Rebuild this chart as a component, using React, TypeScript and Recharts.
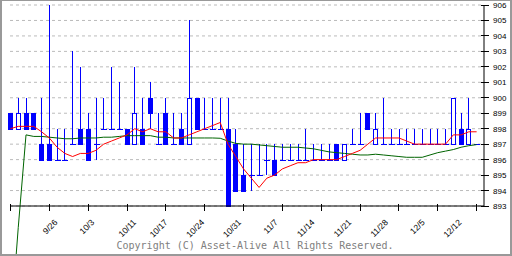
import { Bar, CartesianGrid, ComposedChart, Line, ReferenceLine, XAxis, YAxis } from "recharts"

// daily candles, 9/12 .. 12/12
const opens = [
    899, 898, 899, 899, 897, 897, 896, 896, 897, 898,
    898, 897, 898, 898, 898, 898, 897, 898, 900, 897,
    899, 897, 898, 897, 900, 898, 898, 898, 898, 897,
    895, 895, 895, 896, 896, 896, 896, 896, 896, 896,
    896, 896, 897, 896, 897, 897, 899, 897, 897, 897,
    897, 897, 897, 897, 897, 897, 897, 897, 898, 897,
    897,
]
const highs = [
    899, 900, 900, 899, 900, 906, 898, 898, 903, 902,
    899, 900, 900, 902, 901, 898, 902, 900, 901, 899,
    900, 899, 899, 905, 900, 900, 900, 900, 900, 898,
    897, 897, 897, 897, 897, 897, 897, 897, 898, 897,
    897, 897, 897, 897, 898, 899, 899, 899, 900, 898,
    898, 898, 898, 898, 898, 898, 898, 900, 899, 900,
    897,
]
const lows = [
    898, 898, 898, 898, 896, 896, 896, 896, 897, 897,
    896, 896, 898, 898, 898, 897, 897, 897, 898, 897,
    897, 897, 897, 897, 898, 898, 898, 898, 893, 894,
    894, 894, 895, 895, 895, 896, 896, 896, 896, 896,
    896, 896, 896, 896, 897, 897, 898, 897, 897, 897,
    897, 897, 897, 897, 897, 897, 897, 897, 897, 897,
    897,
]
const closes = [
    898, 899, 898, 898, 896, 896, 896, 896, 897, 897,
    896, 897, 898, 898, 898, 897, 899, 897, 899, 897,
    897, 897, 897, 900, 898, 898, 898, 898, 893, 894,
    894, 895, 895, 896, 895, 896, 896, 896, 896, 896,
    896, 896, 896, 897, 897, 897, 898, 898, 897, 897,
    897, 897, 897, 897, 897, 897, 897, 900, 897, 898,
    897,
]
// calendar day of each candle, counted from 9/26
const candleDays = [
    -14, -13, -12, -11, -10, -6, -5, -4, 0, 1,
    2, 3, 4, 7, 8, 9, 10, 11, 15, 16,
    17, 18, 21, 22, 23, 24, 25, 28, 29, 30,
    31, 32, 35, 36, 37, 39, 42, 43, 44, 45,
    46, 49, 50, 51, 52, 53, 56, 57, 59, 60,
    63, 64, 65, 66, 67, 70, 71, 72, 73, 74,
    77,
]
// red: short moving average
const ma5 = [
    898.0, 898.15, 898.15, 898.15, 897.8, 897.4, 896.8, 896.4, 896.2, 896.4,
    896.4, 896.6, 897.0, 897.2, 897.4, 897.6, 898.0, 897.8, 898.0, 897.8,
    897.8, 897.4, 897.4, 897.6, 897.8, 898.0, 898.2, 898.4, 897.0, 896.2,
    895.4, 894.8, 894.2, 894.8, 895.0, 895.4, 895.6, 895.8, 895.8, 896.0,
    896.0, 896.0, 896.0, 896.2, 896.4, 896.6, 897.0, 897.4, 897.4, 897.4,
    897.4, 897.2, 897.0, 897.0, 897.0, 897.0, 897.0, 897.6, 897.6, 897.8,
    897.8,
]
// green: long moving average (first two points fall far below the chart)
const ma25 = [
    885.0, 891.6, 897.6, 897.5, 897.5, 897.45, 897.4, 897.35, 897.35, 897.4,
    897.4, 897.4, 897.45, 897.45, 897.5, 897.55, 897.55, 897.55, 897.55, 897.45,
    897.45, 897.4, 897.4, 897.4, 897.4, 897.4, 897.4, 897.38, 897.2, 897.05,
    897.0, 897.0, 896.95, 896.9, 896.85, 896.8, 896.8, 896.8, 896.75, 896.7,
    896.6, 896.5, 896.45, 896.4, 896.35, 896.3, 896.3, 896.35, 896.3, 896.25,
    896.2, 896.15, 896.15, 896.15, 896.3, 896.45, 896.55, 896.65, 896.8, 896.9,
    896.97,
]

const tickIndex = [0, 5, 10, 15, 20, 25, 30, 35, 40, 45, 50, 55, 60]
const dateLabels = ["9/26", "10/3", "10/11", "10/17", "10/24", "10/31", "11/7", "11/14", "11/21", "11/28", "12/5", "12/12"]
const labelDays = [0, 7, 15, 21, 28, 35, 42, 49, 56, 63, 70, 77]
const priceTicks = [893, 894, 895, 896, 897, 898, 899, 900, 901, 902, 903, 904, 905, 906]

const data = closes.map((c, i) => ({
    i,
    day: candleDays[i],
    open: opens[i],
    close: c,
    high: highs[i],
    low: lows[i],
    range: [lows[i], highs[i]],
    ma5: ma5[i],
    ma25: i >= 2 ? ma25[i] : null,
}))

const BLUE = "#0000ff"
const tickFont = "'Liberation Sans', Arial, sans-serif"

const Candle = (props: any) => {
    const { x, y, width, height, payload } = props
    const { open, close, high, low } = payload
    const top = Math.min(y, y + height)
    const bottom = Math.max(y, y + height)
    const k = high > low ? (bottom - top) / (high - low) : 0
    const py = (v: number) => Math.round(top + (high - v) * k)
    const cx = Math.round(x + width / 2) + 0.5
    const bodyTop = py(Math.max(open, close))
    const bodyBot = py(Math.min(open, close))
    return (
        <g shapeRendering="crispEdges">
            <line x1={cx} x2={cx} y1={py(high)} y2={py(low)} stroke={BLUE} />
            {open === close ? (
                <line x1={cx - 3} x2={cx + 3} y1={bodyTop + 0.5} y2={bodyTop + 0.5} stroke={BLUE} />
            ) : close < open ? (
                <rect x={cx - 2.5} y={bodyTop} width={5} height={bodyBot - bodyTop + 1} fill={BLUE} />
            ) : (
                <rect x={cx - 2} y={bodyTop + 0.5} width={4} height={bodyBot - bodyTop} fill="#fff" stroke={BLUE} />
            )}
        </g>
    )
}

const IndexTick = (props: any) => {
    const { x, y } = props
    return <line x1={x} x2={x} y1={y - 2} y2={y + 5} stroke="#000" shapeRendering="crispEdges" />
}

const DateTick = (props: any) => {
    const { x, y, payload } = props
    const label = dateLabels[labelDays.indexOf(payload.value)]
    return (
        <text
            x={x}
            y={y + 8}
            transform={`rotate(-45, ${x}, ${y + 8})`}
            textAnchor="end"
            fontSize={8.5}
            fontFamily={tickFont}
            fill="#000"
        >
            {label}
        </text>
    )
}

const PriceTick = (props: any) => {
    const { x, y, payload } = props
    return (
        <g>
            <line x1={x - 3} x2={x + 5} y1={y} y2={y} stroke="#000" shapeRendering="crispEdges" />
            <text x={x + 9} y={y + 3} fontSize={8} fontFamily={tickFont} fill="#000">
                {payload.value}
            </text>
        </g>
    )
}

export default function App() {
    return (
        <div style={{ position: "absolute", left: 0, top: 0, width: 512, height: 256, background: "#fff" }}>
            <ComposedChart width={512} height={256} data={data} margin={{ top: 5, right: 0, bottom: 0, left: 10 }}>
                <CartesianGrid vertical={false} stroke="#bbbbbb" strokeDasharray="3 3" />
                <XAxis
                    dataKey="i"
                    type="number"
                    domain={[-0.06, 60.95]}
                    ticks={tickIndex}
                    interval={0}
                    height={9}
                    tickSize={0}
                    tickMargin={0}
                    tickLine={false}
                    axisLine={{ stroke: "#000" }}
                    tick={<IndexTick />}
                />
                <XAxis
                    xAxisId="cal"
                    dataKey="day"
                    type="number"
                    domain={[-9.15, 81.19]}
                    allowDataOverflow
                    ticks={labelDays}
                    interval={0}
                    height={41}
                    tickSize={0}
                    tickMargin={0}
                    tickLine={false}
                    axisLine={false}
                    tick={<DateTick />}
                />
                <YAxis
                    orientation="right"
                    domain={[893, 906]}
                    ticks={priceTicks}
                    interval={0}
                    width={28}
                    tickSize={0}
                    tickMargin={0}
                    tickLine={false}
                    axisLine={{ stroke: "#000" }}
                    tick={<PriceTick />}
                />
                <YAxis
                    yAxisId="left"
                    orientation="left"
                    domain={[893, 906]}
                    width={0}
                    tick={false}
                    tickLine={false}
                    axisLine={{ stroke: "#000" }}
                />
                <Bar dataKey="range" barSize={5} shape={<Candle />} isAnimationActive={false} />
                <Line
                    dataKey="ma25"
                    type="linear"
                    stroke="#006400"
                    strokeWidth={1}
                    dot={false}
                    activeDot={false}
                    isAnimationActive={false}
                />
                <ReferenceLine
                    segment={[{ x: 0, y: ma25[0] }, { x: 1, y: ma25[1] }]}
                    stroke="#006400"
                    ifOverflow="visible"
                />
                <ReferenceLine
                    segment={[{ x: 1, y: ma25[1] }, { x: 2, y: ma25[2] }]}
                    stroke="#006400"
                    ifOverflow="visible"
                />
                <Line
                    dataKey="ma5"
                    type="linear"
                    stroke="#ff0000"
                    strokeWidth={1}
                    dot={false}
                    activeDot={false}
                    isAnimationActive={false}
                />
            </ComposedChart>
            <svg width={512} height={256} style={{ position: "absolute", left: 0, top: 0, pointerEvents: "none" }}>
                <text
                    x={255}
                    y={249}
                    textAnchor="middle"
                    fontSize={10}
                    fontFamily="'DejaVu Sans Mono', 'Liberation Mono', monospace"
                    fill="#808080"
                >
                    Copyright (C) Asset-Alive All Rights Reserved.
                </text>
            </svg>
            <div
                style={{
                    position: "absolute",
                    left: 0,
                    top: 0,
                    width: 512,
                    height: 256,
                    boxSizing: "border-box",
                    borderStyle: "solid",
                    borderColor: "#999",
                    borderWidth: "1px 2px 2px 2px",
                    pointerEvents: "none",
                }}
            />
        </div>
    )
}
